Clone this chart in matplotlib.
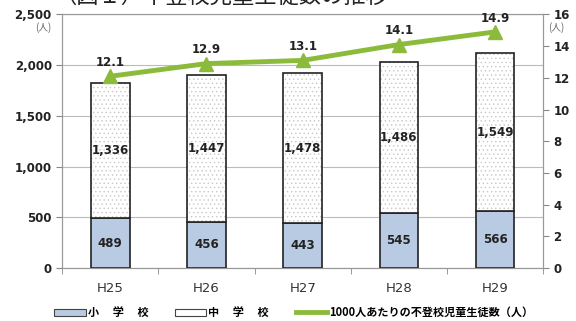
import matplotlib.pyplot as plt
from matplotlib.lines import Line2D
from matplotlib.patches import Patch
import numpy as np

plt.rcParams['font.family'] = ['Noto Sans CJK JP', 'DejaVu Sans']
plt.rcParams['hatch.linewidth'] = 0.5

years = ['H25', 'H26', 'H27', 'H28', 'H29']
elementary = [489, 456, 443, 545, 566]
junior_high = [1336, 1447, 1478, 1486, 1549]
per_1000 = [12.1, 12.9, 13.1, 14.1, 14.9]

fig = plt.figure(figsize=(5.76, 3.21), dpi=100)
ax1 = fig.add_axes([0.108, 0.165, 0.835, 0.79])
ax2 = ax1.twinx()

x = np.arange(len(years))
w = 0.4
ax1.bar(x, elementary, w, color='#b9cbe3', edgecolor='#222222', linewidth=1.2, zorder=3)
# dotted fill in light grey, then the dark outline on top
ax1.bar(x, junior_high, w, bottom=elementary, color='white', edgecolor='#c8c8c8',
        linewidth=0, hatch='....', zorder=3)
ax1.bar(x, junior_high, w, bottom=elementary, fill=False, edgecolor='#222222',
        linewidth=1.2, zorder=3)

for i in range(len(years)):
    ax1.text(x[i], elementary[i] / 2, f'{elementary[i]:,}', ha='center', va='center',
             fontsize=8.5, fontweight='bold', color='#222222', zorder=5, family='DejaVu Sans')
    ax1.text(x[i], elementary[i] + junior_high[i] / 2, f'{junior_high[i]:,}', ha='center',
             va='center', fontsize=8.5, fontweight='bold', color='#222222', zorder=5,
             family='DejaVu Sans')

ax2.plot(x, per_1000, color='#8cbb3c', linewidth=3.5, marker='^', markersize=10, zorder=4)
for i in range(len(years)):
    ax2.text(x[i], per_1000[i] + 0.45, f'{per_1000[i]}', ha='center', va='bottom',
             fontsize=8.5, fontweight='bold', color='#222222', family='DejaVu Sans')

ax1.set_xlim(-0.5, len(years) - 0.5)
ax1.set_ylim(0, 2500)
ax1.set_yticks(range(0, 2501, 500))
ax1.set_yticklabels([f'{v:,}' for v in range(0, 2501, 500)])
ax2.set_ylim(0, 16)
ax2.set_yticks(range(0, 17, 2))

ax1.set_xticks(x)
ax1.set_xticklabels(years)
ax1.set_xticks(np.arange(-0.5, len(years)), minor=True)
ax1.tick_params(axis='x', which='major', length=0, pad=10, labelsize=9.5)
ax1.tick_params(axis='x', which='minor', length=4, color='#888888')
ax1.tick_params(axis='y', length=4, color='#888888', labelsize=8.5)
ax2.tick_params(axis='y', length=4, color='#888888', labelsize=8.5)
for lab in ax1.get_yticklabels() + ax2.get_yticklabels():
    lab.set_fontweight('bold')
    lab.set_family('DejaVu Sans')
    lab.set_color('#222222')
for lab in ax1.get_xticklabels():
    lab.set_family('DejaVu Sans')
    lab.set_color('#333333')

ax1.grid(axis='y', color='#bbbbbb', linewidth=0.8, zorder=0)
ax1.set_axisbelow(True)
for ax in (ax1, ax2):
    for s in ax.spines.values():
        s.set_color('#999999')
        s.set_linewidth(0.8)

fig.text(0.075, 0.905, '(人)', fontsize=7, color='#666666', ha='center')
fig.text(0.965, 0.905, '(人)', fontsize=7, color='#666666', ha='center')

fig.text(0.385, 1.012, '（図１）不登校児童生徒数の推移', fontsize=16, ha='center', va='center',
         color='#222222')

handles = [
    Patch(facecolor='#b9cbe3', edgecolor='#444444', linewidth=0.8),
    Patch(facecolor='white', edgecolor='#444444', linewidth=0.8),
    Line2D([0], [0], color='#8cbb3c', linewidth=3.5),
]
labels = ['小　 学　 校', '中　 学　 校', '1000人あたりの不登校児童生徒数（人）']
fig.legend(handles, labels, loc='lower center', bbox_to_anchor=(0.51, -0.025), ncol=3,
           frameon=False, handlelength=2.8, handleheight=0.6,
           handletextpad=0.2, columnspacing=2.4,
           prop={'weight': 'bold', 'size': 8})

fig.savefig('out.png', dpi=100)
